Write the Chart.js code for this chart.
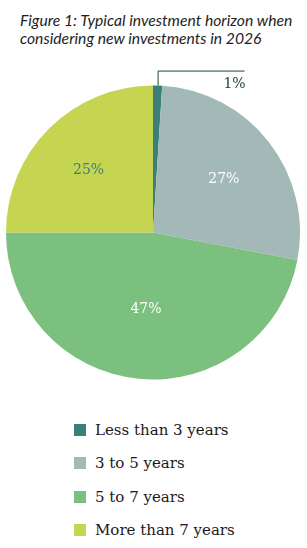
<!DOCTYPE html>
<html>
<head>
<meta charset="utf-8">
<script src="https://cdn.jsdelivr.net/npm/chart.js@4"></script>
<style>
  body { margin: 0; background: #fff; width: 307px; height: 548px; position: relative; overflow: hidden; }
  #title { position: absolute; left: 20px; top: 11px; font-family: Lato, sans-serif; font-style: italic; font-size: 15.7px; line-height: 18px; color: #1e1e1e; }
  #wrap { position: absolute; left: 0; top: 70px; width: 307px; height: 330px; }
  #legend { position: absolute; left: 74px; top: 421px; font-family: "DejaVu Serif", serif; font-size: 15px; color: #1a1a1a; }
  .item { height: 33.3px; display: flex; align-items: flex-start; }
  .box { width: 12px; height: 12px; margin-top: 3px; margin-right: 9px; }
</style>
</head>
<body>
<div id="title">Figure 1: Typical investment horizon when<br>considering new investments in 2026</div>
<div id="wrap"><canvas id="pie"></canvas></div>
<div id="legend"></div>
<script>
var categories = ["Less than 3 years", "3 to 5 years", "5 to 7 years", "More than 7 years"];
var values = [1, 27, 47, 25];
var colors = ["#3a8078", "#a3b9b8", "#7bc07e", "#c6d551"];
var labelColors = ["#1d3b36", "#ffffff", "#ffffff", "#3a8078"];
// how far out each label sits, as a share of the radius
var labelRadius = [1, 0.61, 0.51, 0.62];

// legend as plain html
var legend = document.getElementById("legend");
for (var i = 0; i < categories.length; i++) {
  var row = document.createElement("div");
  row.className = "item";
  row.innerHTML = '<span class="box" style="background:' + colors[i] + '"></span><span>' + categories[i] + '</span>';
  legend.appendChild(row);
}

var sliceLabels = {
  id: "sliceLabels",
  afterDatasetsDraw: function (chart) {
    var ctx = chart.ctx;
    var arcs = chart.getDatasetMeta(0).data;
    ctx.save();
    ctx.font = "14px 'DejaVu Serif', serif";
    ctx.textBaseline = "middle";
    for (var i = 0; i < arcs.length; i++) {
      var a = arcs[i];
      var text = values[i] + "%";
      var mid = (a.startAngle + a.endAngle) / 2;
      if (values[i] < 5) {
        // small slice: leader line up and to the right
        var x0 = a.x + a.outerRadius * Math.cos(mid);
        var y0 = a.y + a.outerRadius * Math.sin(mid);
        ctx.strokeStyle = "#1d4a3e";
        ctx.lineWidth = 1;
        ctx.beginPath();
        ctx.moveTo(x0 + 0.5, y0);
        ctx.lineTo(x0 + 0.5, y0 - 14.5);
        ctx.lineTo(x0 + 87, y0 - 14.5);
        ctx.stroke();
        ctx.fillStyle = labelColors[i];
        ctx.textAlign = "right";
        ctx.fillText(text, x0 + 88, y0 - 1);
      } else {
        var r = a.outerRadius * labelRadius[i];
        ctx.fillStyle = labelColors[i];
        ctx.textAlign = "center";
        ctx.fillText(text, a.x + r * Math.cos(mid), a.y + r * Math.sin(mid) + 2);
      }
    }
    ctx.restore();
  }
};

new Chart(document.getElementById("pie"), {
  type: "pie",
  data: {
    labels: categories,
    datasets: [{
      data: values,
      backgroundColor: colors,
      borderWidth: 0
    }]
  },
  options: {
    responsive: true,
    maintainAspectRatio: false,
    animation: false,
    layout: { padding: { left: 6, right: 7, top: 15, bottom: 20 } },
    plugins: {
      legend: { display: false },
      tooltip: { enabled: false }
    }
  },
  plugins: [sliceLabels]
});
</script>
</body>
</html>
